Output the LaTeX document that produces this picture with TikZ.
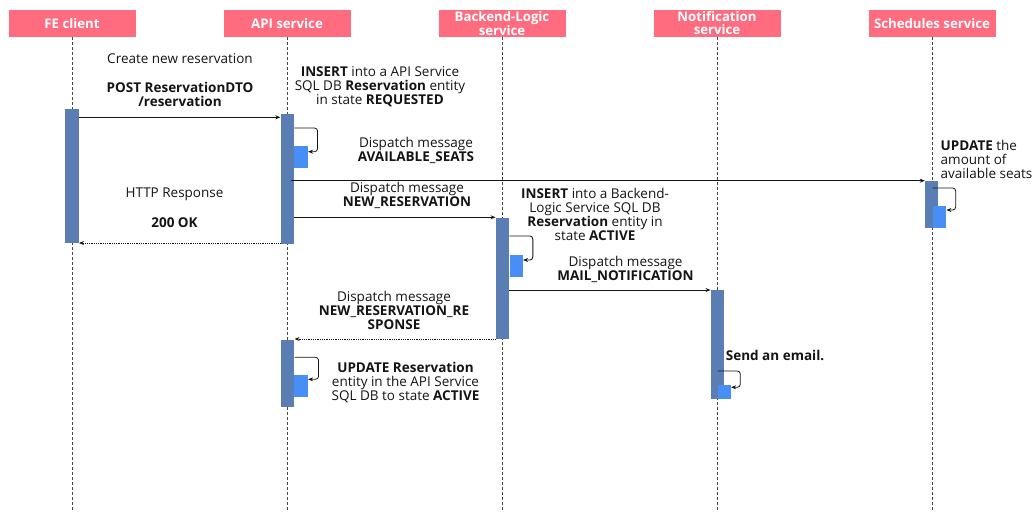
\documentclass[tikz,border=0pt]{standalone}
\usepackage{fontspec}
\setmainfont{Open Sans}
\usetikzlibrary{arrows.meta}
\definecolor{hdr}{RGB}{255,108,128}
\definecolor{actcol}{RGB}{90,125,180}
\definecolor{subcol}{RGB}{72,142,247}
\definecolor{ink}{RGB}{20,20,20}
\definecolor{lifecol}{RGB}{70,70,70}
\begin{document}
\begin{tikzpicture}[x=1pt,y=-1pt,
  hdrbox/.style={fill=hdr, text=white, font=\bfseries\fontsize{13.2}{13}\selectfont,
    minimum width=127pt, minimum height=27pt, inner sep=0pt, align=center},
  lifeline/.style={draw=lifecol, line width=0.8pt, dash pattern=on 3pt off 2pt},
  actbar/.style={fill=actcol, minimum width=13.5pt, inner sep=0pt, anchor=north},
  subbox/.style={fill=subcol, inner sep=0pt, anchor=north west},
  msg/.style={draw=ink, line width=0.8pt, -{Stealth[length=5pt,width=4pt]}},
  reply/.style={draw=ink, line width=0.8pt, densely dotted, -{Stealth[length=5pt,width=4pt]}},
  selfcall/.style={draw=ink, line width=0.8pt, rounded corners=3pt, -{Stealth[length=5pt,width=4pt]}},
  lbl/.style={text=ink, font=\fontsize{13.5}{14}\selectfont, align=center, inner sep=0pt},
  lbll/.style={lbl, align=left, anchor=west}]
\useasboundingbox (0,0) rectangle (1032,511);
\coordinate (bot) at (0,511);

% participants
\node[hdrbox] (fe) at (72,23.5) {FE client};
\node[hdrbox] (api) at (287,23.5) {API service};
\node[hdrbox] (bl) at (502,23.5) {Backend-Logic\\service};
\node[hdrbox] (nt) at (717,23.5) {Notification\\service};
\node[hdrbox] (sc) at (932,23.5) {Schedules service};

% lifelines
\foreach \p in {fe,api,bl,nt,sc}
  \draw[lifeline] (\p.south) -- (\p.south |- bot);

% activation bars
\node[actbar, minimum height=134pt] (feA) at (72,108.3) {};
\node[actbar, minimum height=130pt] (apiA) at (287.3,113.3) {};
\node[actbar, minimum height=46.7pt] (scA) at (931.7,181) {};
\node[actbar, minimum height=121.7pt] (blA) at (502.5,217.3) {};
\node[actbar, minimum height=108.3pt] (ntA) at (717.5,290) {};
\node[actbar, minimum height=67pt] (apiB) at (287.6,340) {};

% nested activations
\node[subbox, minimum width=13.7pt, minimum height=21.7pt] (apiS1) at (294,146) {};
\node[subbox, minimum width=13.7pt, minimum height=22pt] (scS) at (932.3,205.7) {};
\node[subbox, minimum width=13.4pt, minimum height=21.7pt] (blS) at (509.3,255) {};
\node[subbox, minimum width=13pt, minimum height=14pt] (ntS) at (717.7,384.3) {};
\node[subbox, minimum width=13.7pt, minimum height=22.4pt] (apiS2) at (294,374.3) {};

% messages
\coordinate (seatsFrom) at (291,180.7);
\draw[msg] (feA.east |- 0,117.3) -- (apiA.west |- 0,117.3);
\draw[msg] (seatsFrom) -- (scA.west |- seatsFrom);
\draw[msg] (apiA.east |- blA.north) -- (blA.north west);
\draw[reply] (apiA.west |- 0,243) -- (feA.east |- 0,243);
\draw[msg] (blA.east |- ntA.north) -- (ntA.north west);
\draw[reply] (blA.west |- 0,339) -- (apiB.east |- 0,339);

% self calls
\draw[selfcall] (apiA.east |- 0,128) -- ++(23.3,0) |- (apiS1.east |- 0,151.7);
\draw[selfcall] (scA.center |- 0,188) ++(1,0) -- (955.7,188) |- (scS.east |- 0,210);
\draw[selfcall] (blA.east |- 0,236) -- ++(23.4,0) |- (blS.east |- 0,260);
\draw[selfcall] (ntA.center |- 0,371) -- (740.3,371) |- (ntS.east |- 0,387.3);
\draw[selfcall] (apiB.east |- 0,357.3) -- ++(24,0) |- (apiS2.east |- 0,379.3);

% labels
\node[lbl] (t1) at (180,59) {Create new reservation};
\node[lbl] (t2) at (180,94) {\textbf{POST ReservationDTO}\\\textbf{/reservation}};
\node[lbl] (t3) at (380,87) {\textbf{INSERT} into a API Service\\SQL DB \textbf{Reservation} entity\\in state \textbf{REQUESTED}};
\node[lbl] (t4) at (416,150.5) {Dispatch message\\\textbf{AVAILABLE\_SEATS}};
\node[lbl] (t5) at (174.5,194.5) {HTTP Response};
\node[lbl] (t6) at (174.5,223) {\textbf{200 OK}};
\node[lbl] (t7) at (407,195.5) {Dispatch message\\\textbf{NEW\_RESERVATION}};
\node[lbl] (t8) at (595,214.5) {\textbf{INSERT} into a Backend-\\Logic Service SQL DB\\\textbf{Reservation} entity in\\state \textbf{ACTIVE}};
\node[lbl] (t9) at (625.5,269.5) {Dispatch message\\\textbf{MAIL\_NOTIFICATION}};
\node[lbl] (t10) at (394,310.5) {Dispatch message\\\textbf{NEW\_RESERVATION\_RE}\\\textbf{SPONSE}};
\node[lbl] (t11) at (405.5,383) {\textbf{UPDATE Reservation}\\entity in the API Service\\SQL DB to state \textbf{ACTIVE}};
\node[lbll] (t12) at (725.7,355.3) {\textbf{Send an email.}};
\node[lbll] (t13) at (940.5,159.5) {\textbf{UPDATE} the\\amount of\\available seats};
\end{tikzpicture}
\end{document}
